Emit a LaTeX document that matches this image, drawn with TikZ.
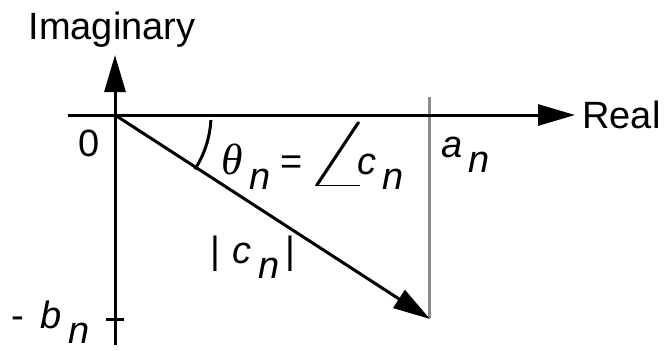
\documentclass[tikz,border=0pt]{standalone}
\usepackage{fontspec}
\setmainfont{Liberation Sans}
\newfontfamily\greekfont{Liberation Serif}
\usetikzlibrary{arrows.meta}
\newcommand{\lowsub}[1]{\raisebox{-0.4em}{\textit{#1}}}

\begin{document}
\begin{tikzpicture}[
      x=0.5pt, y=-0.5pt,
      axis/.style={line width=1.5pt, -{Triangle[length=18.5pt,width=10.5pt]}},
      guide/.style={line width=1.5pt, draw=black!45},
      lbl/.style={font=\fontsize{19}{22}\selectfont, inner sep=0pt},
    ]
    \useasboundingbox (0,0) rectangle (665,350);
    % axes and points
    \coordinate (o)      at (115,115);
    \coordinate (imtop)  at (115,55);
    \coordinate (imbot)  at (115,345);
    \coordinate (releft) at (68,115);
    \coordinate (reright) at (575,115);
    \coordinate (cn)     at (430,319);
    \coordinate (antop)  at (429,97);
    \coordinate (anbot)  at (429,318);
    \coordinate (tickl)  at (106,319);
    \coordinate (tickr)  at (124,319);

    \draw[guide] (antop) -- (anbot);
    \draw[axis] (imbot) -- (imtop);
    \draw[axis] (releft) -- (reright);
    \draw[axis] (o) -- (cn);
    \draw[line width=1.5pt] (tickl) -- (tickr);
    \draw[line width=1.5pt] (o) ++(3:96) arc[start angle=3, end angle=33, radius=100];

    % labels
    \node[lbl, anchor=base] (imag) at (112,39) {Imaginary};
    \node[lbl, anchor=base] (zero) at (89,156) {0};
    \node[lbl, anchor=base west] (real) at (582,128) {Real};
    \node[lbl, anchor=base west] (an) at (441,157) {\textit{a}\,\lowsub{n}};
    \node[lbl, anchor=base west] (bn) at (11,328) {-\, \textit{b}\,\lowsub{n}};
    \node[lbl, anchor=base west] (mag) at (210,263) {|\,\,\textit{c}\,\lowsub{n}\,|};
    \node[lbl, anchor=base west] (theta) at (221,174)
      {{\greekfont\itshape\scalebox{1.15}{θ}}\,\lowsub{n} =\raisebox{-0.32em}{\scalebox{3.1}[2.4]{$\angle$}}\kern-0.4em\textit{c}\,\lowsub{n}};
  \end{tikzpicture}
\end{document}
